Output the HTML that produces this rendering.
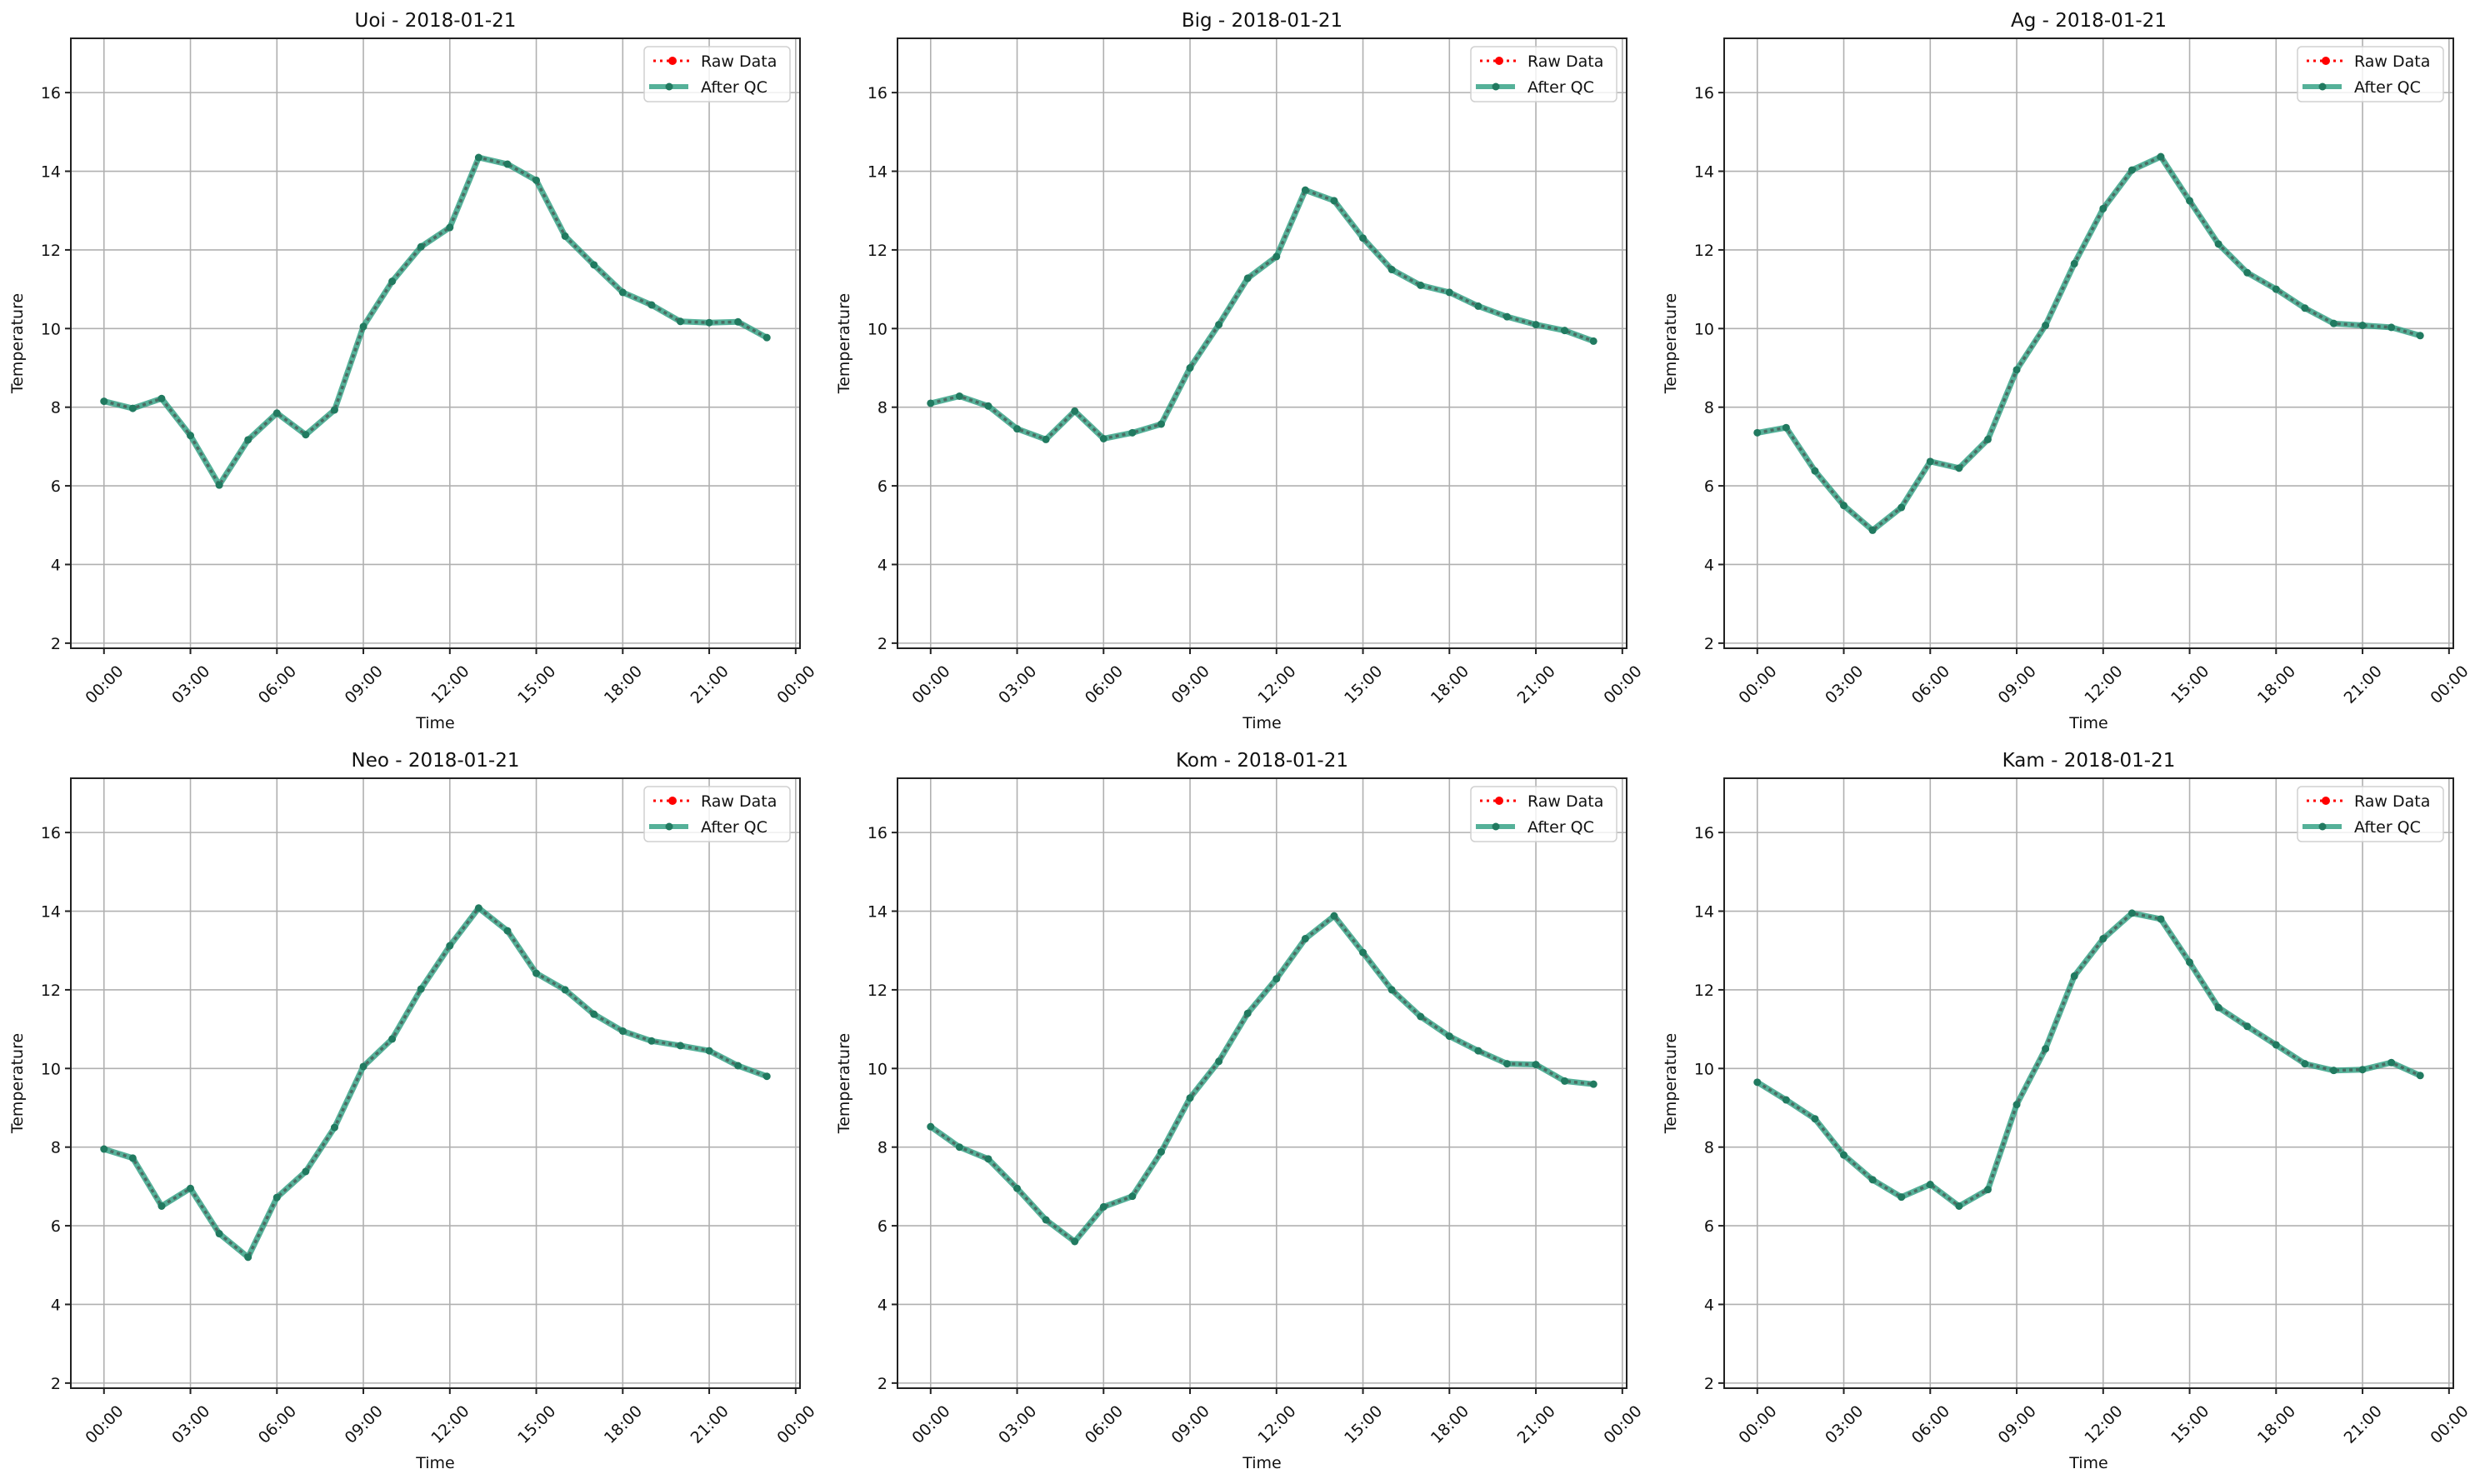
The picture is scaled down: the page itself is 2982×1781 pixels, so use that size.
<!DOCTYPE html>
<html><head><meta charset="utf-8"><style>
html,body{margin:0;padding:0;background:#fff;}
svg{display:block;font-family:"DejaVu Sans","Liberation Sans",sans-serif;}
</style></head><body>
<svg id="fig" width="2982" height="1781" viewBox="0 0 2982 1781" xmlns="http://www.w3.org/2000/svg"></svg>
<script>
const stations = ["Uoi","Big","Ag","Neo","Kom","Kam"];
const dateLabel = "2018-01-21";
const hours = [0,1,2,3,4,5,6,7,8,9,10,11,12,13,14,15,16,17,18,19,20,21,22,23];
const uoiTemp = [8.15,7.97,8.22,7.28,6.02,7.17,7.85,7.3,7.93,10.05,11.2,12.08,12.57,14.35,14.18,13.77,12.35,11.62,10.92,10.6,10.18,10.15,10.17,9.77];
const bigTemp = [8.1,8.28,8.03,7.45,7.18,7.9,7.2,7.35,7.57,9.0,10.1,11.28,11.83,13.52,13.25,12.3,11.5,11.1,10.92,10.57,10.3,10.1,9.95,9.68];
const agTemp = [7.35,7.48,6.38,5.5,4.87,5.45,6.62,6.45,7.18,8.95,10.08,11.65,13.05,14.03,14.37,13.25,12.15,11.42,11.0,10.52,10.13,10.08,10.03,9.82];
const neoTemp = [7.95,7.72,6.5,6.95,5.8,5.2,6.72,7.38,8.5,10.05,10.75,12.02,13.12,14.08,13.5,12.42,12.0,11.38,10.95,10.7,10.58,10.45,10.07,9.8];
const komTemp = [8.52,8.0,7.7,6.95,6.15,5.6,6.48,6.75,7.88,9.25,10.18,11.4,12.28,13.3,13.88,12.95,12.0,11.32,10.82,10.45,10.12,10.1,9.68,9.6];
const kamTemp = [9.65,9.2,8.72,7.8,7.17,6.73,7.05,6.5,6.92,9.08,10.5,12.35,13.3,13.95,13.8,12.7,11.55,11.07,10.6,10.12,9.95,9.97,10.15,9.82];
const rawSeries = [uoiTemp,bigTemp,agTemp,neoTemp,komTemp,kamTemp];
const qcSeries = [uoiTemp,bigTemp,agTemp,neoTemp,komTemp,kamTemp];
const yTicks = [2,4,6,8,10,12,14,16];
const xTickHours = [0,3,6,9,12,15,18,21,24];
const xTickLabels = ["00:00","03:00","06:00","09:00","12:00","15:00","18:00","21:00","00:00"];

const NS="http://www.w3.org/2000/svg";
const fig=document.getElementById('fig');
function mk(tag,attrs,parent,text){const e=document.createElementNS(NS,tag);for(const k in attrs)e.setAttribute(k,attrs[k]);if(text!==undefined)e.textContent=text;parent.appendChild(e);return e;}

const W=875, H=732, X0=85, Y0=46, DX=992, DY=888;
const xMin=-1.15, xMax=24.15, yMin=1.87, yMax=17.38;

stations.forEach((name,i)=>{
  const ox=X0+(i%3)*DX, oy=Y0+Math.floor(i/3)*DY;
  const xs=h=>ox+(h-xMin)/(xMax-xMin)*W;
  const ys=v=>oy+H-(v-yMin)/(yMax-yMin)*H;
  const g=mk('g',{},fig);
  
  
  xTickHours.forEach(h=>{const l=mk('line',{x1:xs(h),x2:xs(h),y1:oy,y2:oy+H,stroke:'#b0b0b0','stroke-width':1.6},g);
    });
  yTicks.forEach(v=>{const l=mk('line',{x1:ox,x2:ox+W,y1:ys(v),y2:ys(v),stroke:'#b0b0b0','stroke-width':1.6},g);
    });
  const pts=(arr)=>arr.map((v,k)=>xs(hours[k]).toFixed(1)+','+ys(v).toFixed(1)).join(' ');
  const qc=mk('polyline',{points:pts(qcSeries[i]),fill:'none',stroke:'rgba(42,157,128,0.8)','stroke-width':7,'stroke-linejoin':'round'},g);
  
  const raw=mk('polyline',{points:pts(rawSeries[i]),fill:'none',stroke:'rgba(70,70,70,0.65)','stroke-width':3.5,'stroke-dasharray':'4,4'},g);
  
  qcSeries[i].forEach((v,k)=>{const c=mk('circle',{cx:xs(hours[k]),cy:ys(v),r:4.5,fill:'#217a60'},g);
    });
  const fr=mk('rect',{x:ox,y:oy,width:W,height:H,fill:'none',stroke:'#222','stroke-width':2},g);
  
  yTicks.forEach(v=>{mk('line',{x1:ox-7,x2:ox,y1:ys(v),y2:ys(v),stroke:'#222','stroke-width':2},g);
    const t=mk('text',{x:ox-12,y:ys(v)+7,'text-anchor':'end','font-size':19,fill:'#111'},g,String(v));
    });
  xTickHours.forEach((h,k)=>{const x=xs(h);mk('line',{x1:x,x2:x,y1:oy+H,y2:oy+H+7,stroke:'#222','stroke-width':2},g);
    const cy=oy+H+43;
    const t=mk('text',{x:x,y:cy+7,'text-anchor':'middle','font-size':19,fill:'#111',transform:`rotate(-45 ${x} ${cy})`},g,xTickLabels[k]);
    });
  const tt=mk('text',{x:ox+W/2,y:oy-14,'text-anchor':'middle','font-size':23,fill:'#111'},g,name+' - '+dateLabel);
  
  const xl=mk('text',{x:ox+W/2,y:oy+H+96,'text-anchor':'middle','font-size':19,fill:'#111'},g,'Time');
  
  const yx=ox-58, yy=oy+H/2;
  const yl=mk('text',{x:yx,y:yy,'text-anchor':'middle','font-size':19,fill:'#111',transform:`rotate(-90 ${yx} ${yy})`},g,'Temperature');
  
  const lg=mk('g',{},g);
  
  const lx=ox+W-187, ly=oy+10;
  mk('rect',{x:lx,y:ly,width:175,height:66,rx:5,fill:'rgba(255,255,255,0.8)',stroke:'#d0d0d0','stroke-width':1.5},lg);
  mk('line',{x1:lx+11,x2:lx+57,y1:ly+17,y2:ly+17,stroke:'#ff0000','stroke-width':3,'stroke-dasharray':'3,5'},lg);
  mk('circle',{cx:lx+34,cy:ly+17,r:5,fill:'#ff0000'},lg);
  const e1=mk('text',{x:lx+68,y:ly+24,'font-size':19,fill:'#111'},lg,'Raw Data');
  
  mk('line',{x1:lx+6,x2:lx+53,y1:ly+48,y2:ly+48,stroke:'rgba(42,157,128,0.8)','stroke-width':6},lg);
  mk('circle',{cx:lx+30,cy:ly+48,r:4.5,fill:'#217a60'},lg);
  const e2=mk('text',{x:lx+68,y:ly+55,'font-size':19,fill:'#111'},lg,'After QC');
  
});
</script>
</body></html>
